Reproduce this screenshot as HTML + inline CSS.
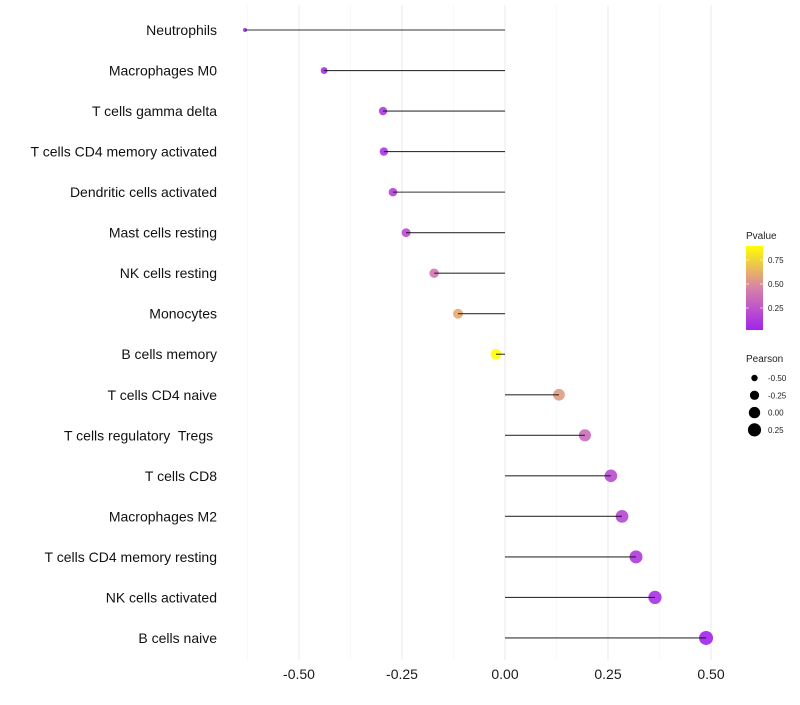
<!DOCTYPE html>
<html><head><meta charset="utf-8"><style>
body{margin:0;background:#fff;font-family:"Liberation Sans",sans-serif}
svg text{font-family:"Liberation Sans",sans-serif;white-space:pre}
</style></head><body>
<svg id="c" width="800" height="700"></svg>
<script>
const categories=["Neutrophils","Macrophages M0","T cells gamma delta","T cells CD4 memory activated","Dendritic cells activated","Mast cells resting","NK cells resting","Monocytes","B cells memory","T cells CD4 naive","T cells regulatory  Tregs ","T cells CD8","Macrophages M2","T cells CD4 memory resting","NK cells activated","B cells naive"];
const pearson=[-0.631,-0.439,-0.296,-0.294,-0.272,-0.240,-0.172,-0.114,-0.022,0.131,0.194,0.257,0.284,0.318,0.364,0.488];
const pvalue=[0.03,0.05,0.12,0.10,0.15,0.2,0.4,0.6,0.9,0.55,0.35,0.2,0.18,0.12,0.08,0.02];
const xTicks=[-0.5,-0.25,0,0.25,0.5];
const xTickLabels=["-0.50","-0.25","0.00","0.25","0.50"];
const gridVals=[-0.625,-0.375,-0.125,0.125,0.375];
const colorTicks=[0.25,0.5,0.75];
const sizeTicks=[-0.5,-0.25,0,0.25];
const sizeTickLabels=["-0.50","-0.25","0.00","0.25"];

const NS="http://www.w3.org/2000/svg";
const svg=document.getElementById('c');
const X=v=>505+v*412;
const Y=i=>30+i*40.53;
const R=v=>Math.sqrt(Math.max(4,4+40.2*(v+0.631)));
function col(p){
  const stops=[[0,[160,32,240]],[0.45,[214,128,170]],[0.9,[255,255,0]]];
  p=Math.min(0.9,Math.max(0,p));
  for(let k=0;k<stops.length-1;k++){const[a,ca]=stops[k],[b,cb]=stops[k+1];
    if(p<=b){const t=(p-a)/(b-a);return 'rgb('+ca.map((c,j)=>Math.round(c+(cb[j]-c)*t)).join(',')+')';}}
}
function mk(t,a,parent){const e=document.createElementNS(NS,t);for(const k in a)e.setAttribute(k,a[k]);(parent||svg).appendChild(e);return e;}
function txt(s,a){const e=mk('text',a);e.textContent=s;return e;}

gridVals.concat(xTicks).forEach(v=>{
  const l=mk('line',{x1:X(v),x2:X(v),y1:5,y2:660,stroke:xTicks.includes(v)?'#ececec':'#f4f4f4','stroke-width':xTicks.includes(v)?1.1:0.6});
  
  
});
xTicks.forEach((v,i)=>{
  const t=txt(xTickLabels[i],{x:X(v),y:679,'font-size':14,'text-anchor':'middle',fill:'#1a1a1a'});
  
  
});
categories.forEach((c,i)=>{
  const t=txt(c,{x:217,y:Y(i)+5,'font-size':14,'text-anchor':'end',fill:'#111'});
  
  
});
categories.forEach((c,i)=>{
  const p=mk('circle',{cx:X(pearson[i]),cy:Y(i),r:R(pearson[i]),fill:col(pvalue[i]),'fill-opacity':0.9});
  
  
});
categories.forEach((c,i)=>{
  const l=mk('line',{x1:X(0),x2:X(pearson[i]),y1:Y(i),y2:Y(i),stroke:'#111','stroke-width':1.1,'stroke-opacity':0.85});
  
  
});

// legend
const lt=txt('Pvalue',{x:746,y:239,'font-size':10,fill:'#222'});

const defs=mk('defs',{});
const g=mk('linearGradient',{id:'pg',x1:0,y1:1,x2:0,y2:0},defs);
[0,0.25,0.5,0.75,1].forEach(o=>mk('stop',{offset:o,'stop-color':col(0.02+o*0.876)},g));
const bar=mk('rect',{x:746,y:246,width:17,height:84,fill:'url(#pg)'});

colorTicks.forEach(v=>{
  const y=330-(v-0.02)/0.876*84;
  mk('line',{x1:746,x2:749,y1:y,y2:y,stroke:'#fff','stroke-opacity':0.6});
  mk('line',{x1:760,x2:763,y1:y,y2:y,stroke:'#fff','stroke-opacity':0.6});
  const t=txt(v.toFixed(2),{x:768,y:y+3,'font-size':8,fill:'#222'});
  
});
const st=txt('Pearson',{x:746,y:362,'font-size':10,fill:'#222'});

sizeTicks.forEach((v,i)=>{
  const y=378+i*17.3;
  const c=mk('circle',{cx:754.5,cy:y,r:R(v)*1.05,fill:'#000'});
  
  const t=txt(sizeTickLabels[i],{x:768,y:y+3,'font-size':8,fill:'#222'});
  
});
</script>
</body></html>
